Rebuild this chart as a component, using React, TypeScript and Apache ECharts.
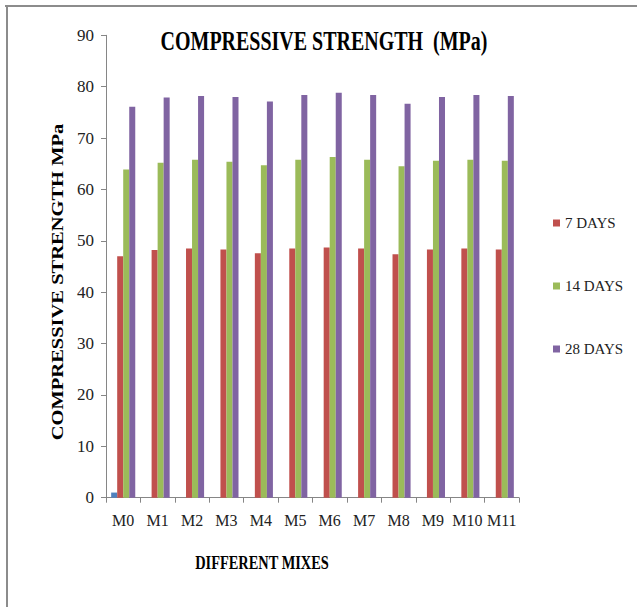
import React, { useEffect, useRef } from "react";
import * as echarts from "echarts";

// Mix designations along the x axis
const mixes = ["M0", "M1", "M2", "M3", "M4", "M5", "M6", "M7", "M8", "M9", "M10", "M11"];

// Compressive strength (MPa) by curing age
const series0 = [1, 0, 0, 0, 0, 0, 0, 0, 0, 0, 0, 0];
const days7 = [47.0, 48.2, 48.5, 48.3, 47.6, 48.5, 48.7, 48.5, 47.4, 48.3, 48.5, 48.3];
const days14 = [63.9, 65.2, 65.8, 65.4, 64.7, 65.8, 66.3, 65.8, 64.5, 65.6, 65.8, 65.6];
const days28 = [76.1, 77.9, 78.2, 78.0, 77.1, 78.4, 78.8, 78.4, 76.7, 78.0, 78.4, 78.2];

const legendNames = ["7 DAYS", "14 DAYS", "28 DAYS"];
const yTicks = { min: 0, max: 90, interval: 10 };

const SERIF = "Liberation Serif";

export default function App() {
  const ref = useRef<HTMLDivElement>(null);

  useEffect(() => {
    if (!ref.current) return;
    const chart = echarts.init(ref.current, null, { renderer: "svg" });

    const bar = (name: string, data: number[], color: string) => ({
      name,
      type: "bar",
      data,
      barGap: "0%",
      barCategoryGap: "30%",
      itemStyle: { color },
    });

    chart.setOption({
      animation: false,
      backgroundColor: "#ffffff",
      textStyle: { fontFamily: SERIF },
      grid: { left: 106, right: 118, top: 35.3, bottom: 109.3, containLabel: false },
      legend: {
        data: legendNames,
        orient: "vertical",
        left: 548,
        top: 208,
        icon: "rect",
        itemWidth: 7,
        itemHeight: 7,
        itemGap: 43,
        textStyle: { fontFamily: SERIF, fontSize: 15, color: "#222", lineHeight: 20 },
      },
      xAxis: {
        type: "category",
        data: mixes,
        axisLine: { lineStyle: { color: "#868686", width: 1 } },
        axisTick: { show: true, length: 5, lineStyle: { color: "#868686" } },
        axisLabel: { interval: 0, margin: 15, fontFamily: SERIF, fontSize: 16, color: "#222" },
        splitLine: { show: false },
      },
      yAxis: {
        type: "value",
        min: yTicks.min,
        max: yTicks.max,
        interval: yTicks.interval,
        axisLine: { show: true, lineStyle: { color: "#868686", width: 1 } },
        axisTick: { show: true, length: 5, lineStyle: { color: "#868686" } },
        axisLabel: { margin: 12, fontFamily: SERIF, fontSize: 17, color: "#222" },
        splitLine: { show: false },
      },
      series: [
        bar("Series 1", series0, "#4F81BD"),
        bar(legendNames[0], days7, "#C0504D"),
        bar(legendNames[1], days14, "#9BBB59"),
        bar(legendNames[2], days28, "#8064A2"),
      ],
      graphic: [
        {
          type: "line",
          shape: { x1: 5, y1: 6, x2: 637, y2: 6 },
          style: { stroke: "#8c8c8c", lineWidth: 2 },
        },
        {
          type: "line",
          shape: { x1: 7, y1: 5, x2: 7, y2: 607 },
          style: { stroke: "#8c8c8c", lineWidth: 2 },
        },
        {
          type: "text",
          x: 324,
          y: 41,
          scaleX: 0.74,
          style: {
            text: "COMPRESSIVE STRENGTH  (MPa)",
            fontFamily: SERIF,
            fontWeight: "bold",
            fontSize: 27,
            fill: "#000",
            textAlign: "center",
            textVerticalAlign: "middle",
          },
        },
        {
          type: "text",
          x: 57,
          y: 282,
          rotation: Math.PI / 2,
          scaleY: 0.85,
          style: {
            text: "COMPRESSIVE STRENGTH MPa",
            fontFamily: SERIF,
            fontWeight: "bold",
            fontSize: 20.5,
            fill: "#000",
            textAlign: "center",
            textVerticalAlign: "middle",
          },
        },
        {
          type: "text",
          x: 262,
          y: 563,
          scaleX: 0.8,
          style: {
            text: "DIFFERENT MIXES",
            fontFamily: SERIF,
            fontWeight: "bold",
            fontSize: 18,
            fill: "#000",
            textAlign: "center",
            textVerticalAlign: "middle",
          },
        },
      ],
    });

    return () => chart.dispose();
  }, []);

  return (
    <div
      ref={ref}
      style={{ position: "fixed", left: 0, top: 0, width: 637, height: 607 }}
    />
  );
}
